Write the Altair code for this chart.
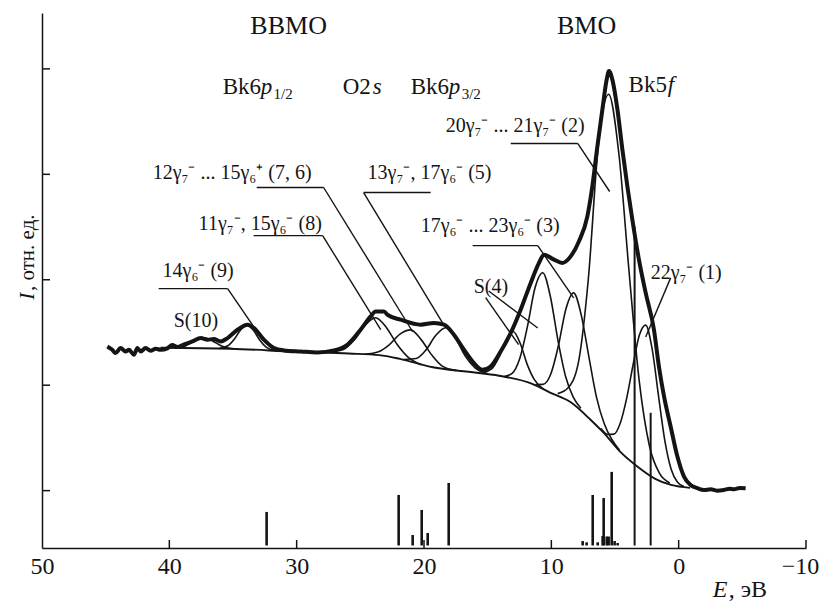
import altair as alt
import pandas as pd

FONT = "Liberation Serif"
INK = "#141414"

# ---------------- experimental spectrum (thick) ----------------
exp_x = [44.87, 44.48, 44.22, 43.83, 43.43, 43.17, 42.78, 42.51, 42.25, 41.86, 41.47, 41.07,
         40.68, 40.16, 39.77, 39.37, 38.88, 38.19, 37.53, 37.00, 36.51, 35.96, 35.43, 34.65,
         33.86, 33.35, 32.57, 31.78, 31.00, 29.69, 28.38, 27.07, 26.02, 24.98, 24.19, 23.80,
         23.14, 22.88, 21.83, 20.26, 19.22, 18.43, 17.65, 16.86, 16.08, 15.42, 14.77, 13.98,
         13.19, 12.41, 11.62, 10.97, 10.58, 9.79, 9.13, 8.48, 7.83, 7.17, 6.78, 6.39, 5.99,
         5.65, 5.47, 5.21, 4.81, 4.42, 4.03, 3.64, 3.12, 2.59, 1.94, 1.55, 1.15, 0.63, 0.10,
         -0.42, -0.94, -1.47, -2.00, -2.51, -3.00, -3.56, -4.00, -4.34, -4.80, -5.26]
exp_y = [2.368, 2.336, 2.305, 2.352, 2.320, 2.336, 2.289, 2.352, 2.320, 2.352, 2.327, 2.346,
         2.336, 2.349, 2.381, 2.362, 2.384, 2.415, 2.447, 2.431, 2.438, 2.415, 2.447, 2.526,
         2.574, 2.542, 2.431, 2.352, 2.330, 2.320, 2.311, 2.330, 2.384, 2.526, 2.652, 2.700,
         2.700, 2.669, 2.621, 2.574, 2.590, 2.574, 2.479, 2.336, 2.210, 2.146, 2.178, 2.320,
         2.495, 2.716, 2.970, 3.160, 3.238, 3.191, 3.160, 3.222, 3.365, 3.602, 3.887, 4.260,
         4.616, 4.900, 4.979, 4.900, 4.616, 4.236, 3.887, 3.571, 3.191, 2.875, 2.526, 2.178,
         1.893, 1.608, 1.323, 1.133, 1.054, 1.023, 1.005, 1.013, 1.000, 1.007, 1.018, 1.013,
         1.025, 1.023]

# ---------------- background (thin) ----------------
bg_x = [40.7, 35.2, 30.0, 25.9, 23.5, 21.9, 19.3, 16.5, 14.1, 11.5, 10.1, 8.5, 6.9, 5.9,
        4.6, 3.2, 1.8, 0.6, -0.9]
bg_y = [2.355, 2.346, 2.317, 2.300, 2.285, 2.250, 2.170, 2.127, 2.090, 2.013, 1.930, 1.840,
        1.670, 1.550, 1.370, 1.225, 1.110, 1.054, 1.026]

# ---------------- fitted components (thin) ----------------
s10_x = [39.6, 38.7, 38.0, 37.3, 36.6, 35.9, 35.0]
s10_y = [2.352, 2.375, 2.42, 2.45, 2.42, 2.372, 2.345]
c9_x = [36.1, 35.4, 34.9, 34.4, 33.9, 33.4, 32.9, 32.4, 31.7]
c9_y = [2.348, 2.374, 2.436, 2.525, 2.570, 2.521, 2.428, 2.361, 2.328]
c8_x = [27.4, 26.32, 25.48, 24.64, 23.8, 22.96, 22.12, 21.28, 20.2]
c8_y = [2.314, 2.339, 2.428, 2.568, 2.640, 2.548, 2.388, 2.269, 2.194]
c76_x = [24.65, 23.57, 22.73, 21.89, 21.05, 20.21, 19.37, 18.53, 17.45]
c76_y = [2.293, 2.318, 2.383, 2.485, 2.525, 2.430, 2.283, 2.178, 2.138]
c5_x = [21.6, 20.61, 19.84, 19.07, 18.3, 17.53, 16.76, 15.99, 15.0]
c5_y = [2.244, 2.254, 2.335, 2.473, 2.545, 2.448, 2.277, 2.164, 2.109]
s4_x = [15.4, 14.68, 14.12, 13.56, 13.0, 12.44, 11.88, 11.32, 10.6]
s4_y = [2.120, 2.155, 2.263, 2.430, 2.510, 2.395, 2.193, 2.050, 1.960]
c3_x = [13.68, 13.08, 12.48, 11.88, 11.28, 10.68, 10.08, 9.48, 8.88, 8.28, 7.68]
c3_y = [2.082, 2.112, 2.253, 2.555, 2.924, 3.067, 2.844, 2.425, 2.083, 1.887, 1.782]
c83_x = [11.25, 10.65, 10.05, 9.45, 8.85, 8.25, 7.65, 7.05, 6.45, 5.85, 5.25, 4.65]
c83_y = [2.007, 2.008, 2.104, 2.372, 2.725, 2.876, 2.665, 2.269, 1.885, 1.637, 1.485, 1.385]
c2_x = [9.5, 8.7, 7.9, 7.1, 6.3, 5.5, 4.7, 3.9, 3.1, 2.3, 1.5, 0.7]
c2_y = [1.920, 1.973, 2.200, 3.000, 4.287, 4.760, 4.200, 3.083, 2.043, 1.426, 1.163, 1.073]
c1_x = [6.1, 5.59, 5.09, 4.59, 4.09, 3.59, 3.09, 2.59, 2.09, 1.59, 1.09, 0.59, 0.09, -0.41]
c1_y = [1.589, 1.534, 1.536, 1.639, 1.873, 2.187, 2.473, 2.570, 2.349, 1.905, 1.477, 1.203,
        1.079, 1.040]

components = {"S10": (s10_x, s10_y), "9": (c9_x, c9_y), "8": (c8_x, c8_y),
              "76": (c76_x, c76_y), "5": (c5_x, c5_y), "S4": (s4_x, s4_y),
              "3": (c3_x, c3_y), "83": (c83_x, c83_y), "2": (c2_x, c2_y), "1": (c1_x, c1_y)}

# ---------------- theoretical line spectrum (bars at the bottom) ----------------
stick_base = 0.48
stick_x = [32.36, 21.99, 20.89, 20.18, 19.71, 18.06, 7.54, 7.23, 6.75, 6.36, 5.97, 5.89,
           5.65, 5.50, 5.26, 5.03, 4.79]
stick_top = [0.798, 0.959, 0.579, 0.817, 0.598, 1.073, 0.522, 0.510, 0.959, 0.510, 0.570,
             0.930, 0.565, 0.565, 1.178, 0.522, 0.503]
long_x = [3.46, 2.20]
long_top = [3.502, 1.738]

# ---------------- axis ticks ----------------
x_ticks = [40, 30, 20, 10, 0, -10]
y_ticks = [1, 2, 3, 4, 5]

# ---------------- labels ----------------
gam_text = ["12γ₇⁻ ... 15γ₆⁺ (7, 6)", "11γ₇⁻, 15γ₆⁻ (8)", "14γ₆⁻ (9)", "S(10)",
            "13γ₇⁻, 17γ₆⁻ (5)", "20γ₇⁻ ... 21γ₇⁻ (2)", "17γ₆⁻ ... 23γ₆⁻ (3)", "S(4)",
            "22γ₇⁻ (1)"]
gam_x = [41.31, 37.70, 40.53, 39.66, 24.43, 18.30, 20.26, 16.10, 2.20]
gam_y = [3.951, 3.476, 3.029, 2.555, 3.951, 4.397, 3.457, 2.876, 3.008]

# leader lines: (x, y) -> (x2, y2)
lead_x = [40.84, 35.42, 33.38, 27.96, 33.14, 27.88, 24.74, 24.74, 16.18, 11.07, 13.19, 7.93,
          0.63, 14.92, 15.16]
lead_y = [2.916, 2.916, 3.419, 3.419, 3.875, 3.875, 3.827, 3.827, 3.324, 3.324, 4.293, 4.293,
          3.018, 2.894, 2.830]
lead_x2 = [35.42, 33.38, 27.96, 23.40, 27.88, 20.89, 19.48, 18.46, 11.07, 8.25, 7.93, 5.42,
           2.59, 11.07, 12.57]
lead_y2 = [2.916, 2.555, 3.419, 2.527, 3.875, 2.507, 3.827, 2.574, 3.324, 2.828, 4.293, 3.837,
           2.458, 2.543, 2.384]

head_text = ["ВВМО", "ВМО"]
head_x = [30.63, 7.23]
head_y = [5.33, 5.33]

orb_text = ["Bk6", "O2", "Bk6", "Bk5"]
orb_x = [35.81, 26.39, 21.05, 3.93]
orb_y = [4.758, 4.758, 4.758, 4.777]
orb_it_text = ["p", "s", "p", "f"]
orb_it_x = [32.83, 24.03, 18.06, 0.86]
orb_it_y = [4.758, 4.758, 4.758, 4.777]
orb_sub_text = ["1/2", "3/2"]
orb_sub_x = [31.81, 17.04]
orb_sub_y = [4.71, 4.71]

# ---------------- chart ----------------
X = alt.X("x:Q",
          scale=alt.Scale(domain=[-10, 50], reverse=True, nice=False, zero=False),
          axis=alt.Axis(values=[50, 40, 30, 20, 10, 0, -10], format="d", ticks=False,
                        grid=False, domainColor=INK, domainWidth=1.5, labelFont=FONT,
                        labelFontSize=24, labelColor=INK, labelPadding=6,
                        labelOffset=alt.ExprRef(expr="datum.value == -10 ? -6 : 0"),
                        labelOverlap=False, labelFlush=False, title=None))
Y = alt.Y("y:Q",
          scale=alt.Scale(domain=[0.456, 5.53], nice=False, zero=False),
          axis=alt.Axis(labels=False, ticks=False, grid=False, domainColor=INK,
                        domainWidth=1.5, title=None))

exp_df = pd.DataFrame({"x": exp_x, "y": exp_y})
bg_df = pd.DataFrame({"x": bg_x, "y": bg_y})
comp_df = pd.concat([pd.DataFrame({"x": xs, "y": ys, "c": k})
                     for k, (xs, ys) in components.items()], ignore_index=True)

comp_layer = alt.Chart(comp_df).mark_line(color=INK, strokeWidth=1.6, interpolate="monotone").encode(
    x=X, y=Y, detail="c:N")
bg_layer = alt.Chart(bg_df).mark_line(color=INK, strokeWidth=1.9, interpolate="monotone").encode(x=X, y=Y)
exp_layer = alt.Chart(exp_df).mark_line(color=INK, strokeWidth=4, interpolate="monotone",
                                         strokeJoin="round").encode(x=X, y=Y)

stick_df = pd.DataFrame({"x": stick_x, "y": [stick_base] * len(stick_x), "y2": stick_top})
stick_layer = alt.Chart(stick_df).mark_rule(color=INK, strokeWidth=2.6).encode(
    x=X, y=Y, y2="y2:Q")
long_df = pd.DataFrame({"x": long_x, "y": [stick_base] * len(long_x), "y2": long_top})
long_layer = alt.Chart(long_df).mark_rule(color=INK, strokeWidth=2).encode(x=X, y=Y, y2="y2:Q")

lead_df = pd.DataFrame({"x": lead_x, "y": lead_y, "x2": lead_x2, "y2": lead_y2})
lead_layer = alt.Chart(lead_df).mark_rule(color=INK, strokeWidth=1.4).encode(
    x=X, y=Y, x2="x2:Q", y2="y2:Q")

xt_df = pd.DataFrame({"x": x_ticks, "y": [0.456] * len(x_ticks), "y2": [0.532] * len(x_ticks)})
xt_layer = alt.Chart(xt_df).mark_rule(color=INK, strokeWidth=1.5).encode(x=X, y=Y, y2="y2:Q")
yt_df = pd.DataFrame({"y": y_ticks, "x": [50] * len(y_ticks), "x2": [49.37] * len(y_ticks)})
yt_layer = alt.Chart(yt_df).mark_rule(color=INK, strokeWidth=1.5).encode(x=X, y=Y, x2="x2:Q")


def text_layer(texts, xs, ys, size, style="normal", align="left"):
    df = pd.DataFrame({"t": texts, "x": xs, "y": ys})
    return alt.Chart(df).mark_text(font=FONT, fontSize=size, fontStyle=style, align=align,
                                   baseline="alphabetic", color=INK).encode(x=X, y=Y, text="t:N")


gam_layer = text_layer(gam_text, gam_x, gam_y, 20)
head_layer = text_layer(head_text, head_x, head_y, 26, align="center")
orb_layer = text_layer(orb_text, orb_x, orb_y, 23)
orb_it_layer = text_layer(orb_it_text, orb_it_x, orb_it_y, 23, style="italic")
orb_sub_layer = text_layer(orb_sub_text, orb_sub_x, orb_sub_y, 15)

# axis titles
xt_it = text_layer(["E"], [-2.67], [-0.01], 24, style="italic")
xt_rest = text_layer([", эВ"], [-3.93], [-0.01], 24)
yt_df1 = pd.DataFrame({"t": ["I"], "x": [50.66], "y": [2.811]})
yt_df2 = pd.DataFrame({"t": [", отн. ед."], "x": [50.66], "y": [2.893]})
ytitle_it = alt.Chart(yt_df1).mark_text(font=FONT, fontSize=21, fontStyle="italic", angle=270,
                                        align="left", baseline="alphabetic", color=INK).encode(
    x=X, y=Y, text="t:N")
ytitle_rest = alt.Chart(yt_df2).mark_text(font=FONT, fontSize=21, angle=270, align="left",
                                          baseline="alphabetic", color=INK).encode(
    x=X, y=Y, text="t:N")

chart = alt.layer(
    bg_layer, comp_layer, stick_layer, long_layer, lead_layer, exp_layer, xt_layer, yt_layer,
    gam_layer, head_layer, orb_layer, orb_it_layer, orb_sub_layer, xt_it, xt_rest,
    ytitle_it, ytitle_rest
).properties(
    width=764, height=535,
    autosize=alt.AutoSizeParams(type="none"),
    padding={"left": 34, "top": 5, "right": 13, "bottom": 53},
    background="white",
).configure_view(stroke=None)

chart.save("out.html", embed_options={"renderer": "svg", "actions": False})
